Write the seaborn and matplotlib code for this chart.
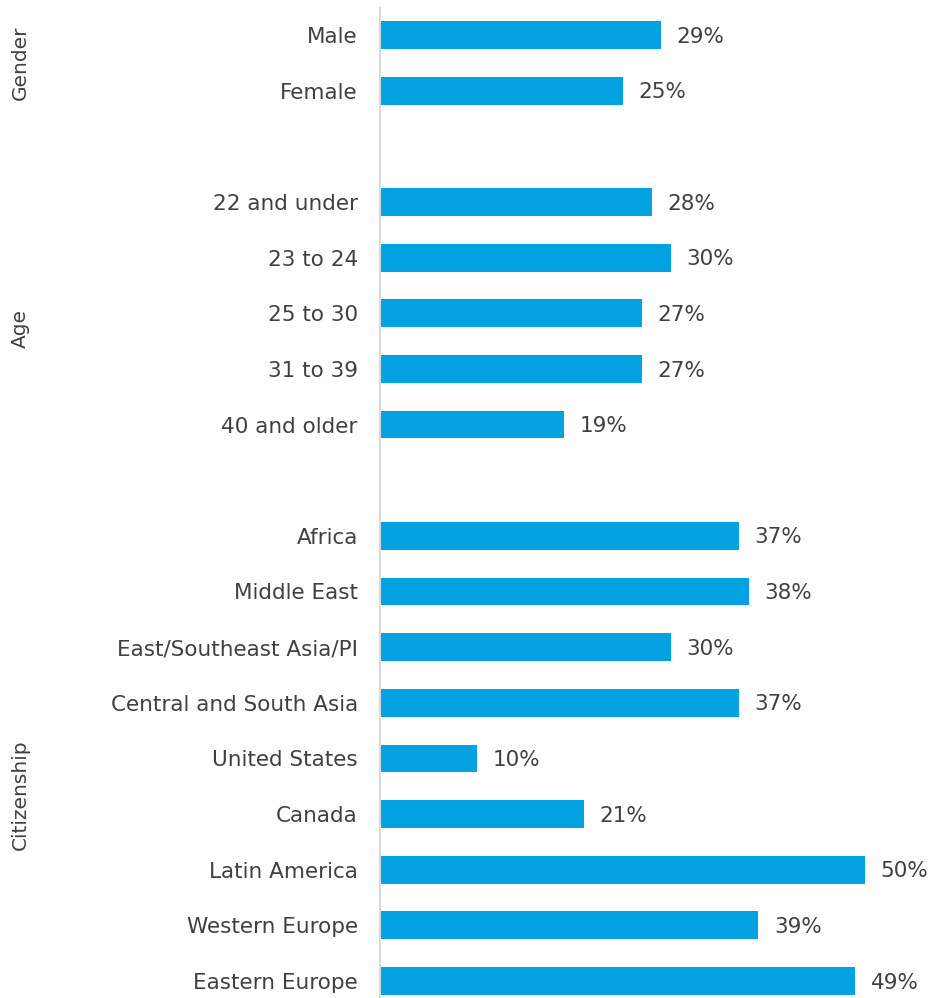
import matplotlib
matplotlib.use("Agg")
import matplotlib.pyplot as plt
import seaborn as sns
import pandas as pd

categories = ["Male", "Female",
              "22 and under", "23 to 24", "25 to 30", "31 to 39", "40 and older",
              "Africa", "Middle East", "East/Southeast Asia/PI", "Central and South Asia",
              "United States", "Canada", "Latin America", "Western Europe", "Eastern Europe"]
values = [29, 25,
          28, 30, 27, 27, 19,
          37, 38, 30, 37, 10, 21, 50, 39, 49]
groups = ["Gender", "Age", "Citizenship"]
group_label_y = [63, 328, 795]  # pixel centres of group labels

order = ["Male", "Female", " ",
         "22 and under", "23 to 24", "25 to 30", "31 to 39", "40 and older", "  ",
         "Africa", "Middle East", "East/Southeast Asia/PI", "Central and South Asia",
         "United States", "Canada", "Latin America", "Western Europe", "Eastern Europe"]

df = pd.DataFrame({"cat": categories, "val": values})

sns.set_theme(style="white")
plt.rcParams['font.family'] = ['DejaVu Sans']
text_color = "#404040"
bar_color = "#02A3E0"

W, H = 930, 998
fig = plt.figure(figsize=(W / 100, H / 100), dpi=100)
ax_left, ax_right, ax_top, ax_bottom = 380, 930, 8, 998
ax = fig.add_axes([ax_left / W, 1 - ax_bottom / H, (ax_right - ax_left) / W, (ax_bottom - ax_top) / H])

sns.barplot(data=df, y="cat", x="val", order=order, orient="h", color=bar_color,
            saturation=1, width=0.5, ax=ax, edgecolor="none")

px_per_pct = 9.7
ax.set_xlim(0, (ax_right - ax_left) / px_per_pct)
row_px = (981 - 35) / 17
ax.set_ylim((ax_bottom - 35) / row_px, (ax_top - 35) / row_px)

for cat, v in zip(categories, values):
    y = order.index(cat)
    ax.text(v + 1.6, y + 0.03, f"{v}%", va="center", ha="left", fontsize=15.5, color=text_color)

ax.set_xlabel("")
ax.set_ylabel("")
ax.set_xticks([])
ax.tick_params(axis="y", length=0, pad=16, labelsize=15.5, labelcolor=text_color)
for s in ["top", "right", "bottom"]:
    ax.spines[s].set_visible(False)
ax.spines["left"].set_color("#D9D9D9")
ax.spines["left"].set_linewidth(1.5)

for g, gy in zip(groups, group_label_y):
    fig.text(20 / W, 1 - gy / H, g, rotation=90, ha="center", va="center",
             fontsize=14.5, color=text_color)

fig.savefig("out.png", dpi=100)
